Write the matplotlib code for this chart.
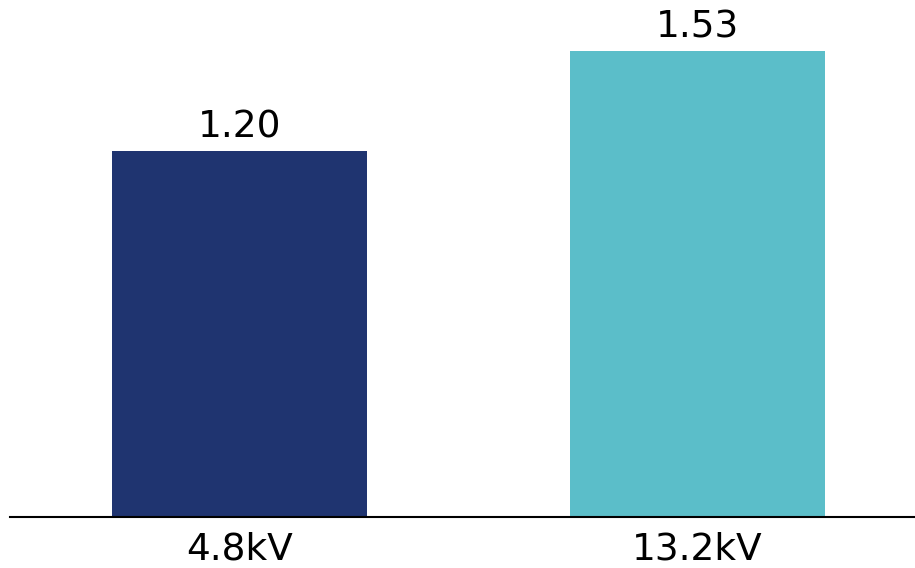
import matplotlib
matplotlib.use("Agg")
import matplotlib.pyplot as plt

categories = ["4.8kV", "13.2kV"]
values = [1.20, 1.53]
labels = ["1.20", "1.53"]
colors = ["#1F3470", "#5BBEC9"]

fig = plt.figure(figsize=(9.15, 5.68), dpi=100)
ax = fig.add_axes([10/915, 51.5/568, 905/915, 516.5/568])
x = list(range(len(categories)))
bars = ax.bar(x, values, width=0.557, color=colors)
ax.set_xlim(-0.501, 1.475)
ax.set_ylim(0, 1.698)
for xi, v, lab in zip(x, values, labels):
    ax.annotate(lab, (xi, v), xytext=(0, 4), textcoords="offset points",
                ha="center", va="bottom", fontsize=27, family="DejaVu Sans", color="black")
ax.set_xticks(x)
ax.set_xticklabels(categories, fontsize=27, family="DejaVu Sans")
ax.tick_params(axis="x", length=0, pad=11)
ax.set_yticks([])
for s in ["top", "right", "left"]:
    ax.spines[s].set_visible(False)
ax.spines["bottom"].set_linewidth(1.5)
ax.spines["bottom"].set_color("black")
fig.savefig("out.png", dpi=100)
